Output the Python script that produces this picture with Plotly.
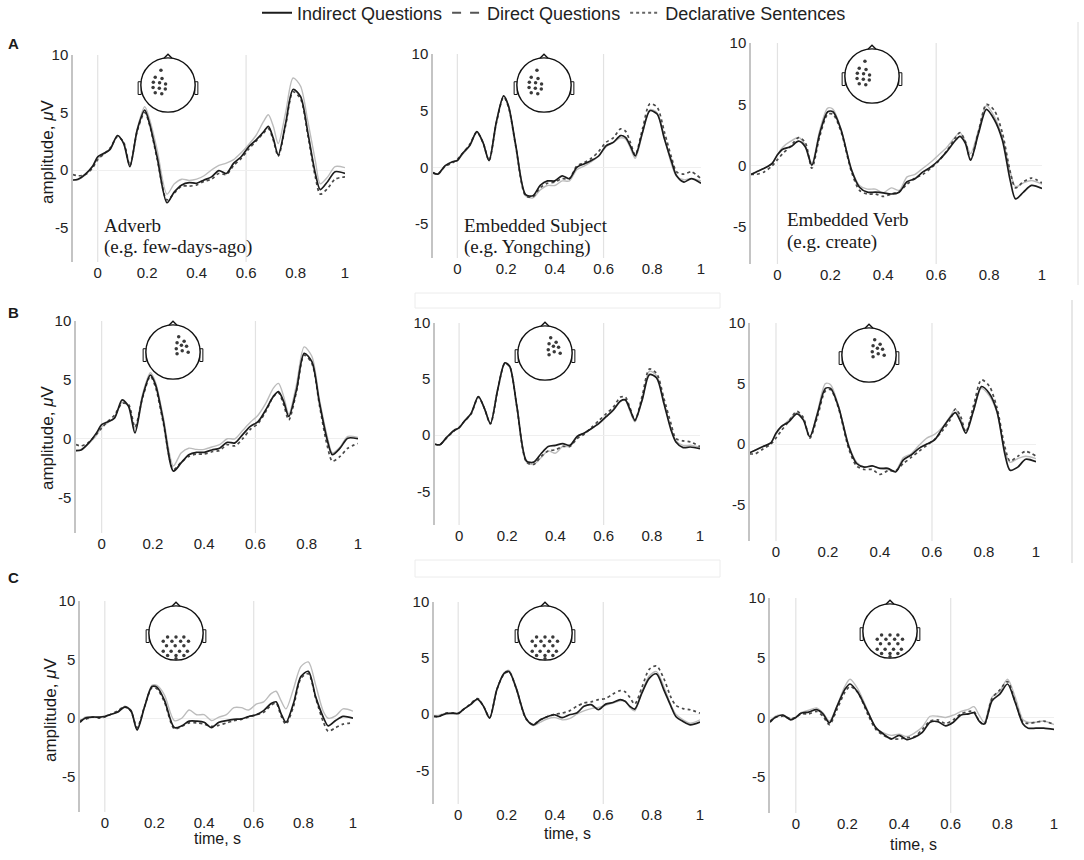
import plotly.graph_objects as go

W, H = 1084, 860

# sample times (s) shared by every waveform
TIME = [-0.1, -0.08, -0.05, -0.02, 0.0, 0.02, 0.05, 0.08, 0.105, 0.13,
        0.16, 0.19, 0.21, 0.24, 0.28, 0.31, 0.34, 0.37, 0.4, 0.43,
        0.46, 0.49, 0.52, 0.55, 0.58, 0.61, 0.64, 0.67, 0.69, 0.71,
        0.73, 0.76, 0.79, 0.82, 0.85, 0.88, 0.9, 0.93, 0.96, 1.0]

# amplitudes (uV), row A = left frontal, B = right frontal, C = posterior
A1_IND = [-0.87, -0.8, -0.35, 0.35, 1.15, 1.4, 1.8, 3.0, 2.3, 0.3, 3.5, 5.2, 4.0, 1.15, -2.85, -1.9, -1.3, -1.1, -1.15, -0.87, -0.6, -0.05, -0.3, 0.6, 1.15, 2.0, 2.6, 3.3, 3.8, 2.75, 1.3, 4.05, 7.0, 6.4, 3.2, -0.3, -1.7, -1.0, -0.15, -0.3]
A1_DIR = [-0.9, -0.85, -0.4, 0.3, 1.0, 1.3, 1.8, 3.0, 2.3, 0.5, 3.6, 5.5, 4.4, 1.8, -2.1, -1.2, -0.8, -0.9, -0.8, -0.5, 0.0, 0.4, 0.6, 0.9, 1.5, 2.2, 3.0, 4.2, 4.8, 3.8, 2.3, 5.0, 8.0, 7.3, 4.2, 0.8, -1.2, -0.6, 0.3, 0.2]
A1_DEC = [-0.4, -0.5, -0.4, 0.2, 0.9, 1.3, 1.9, 2.9, 2.4, 0.4, 3.4, 5.0, 3.9, 1.0, -2.6, -2.0, -1.4, -1.4, -1.3, -1.0, -0.8, -0.3, -0.4, 0.4, 1.0, 1.8, 2.5, 3.2, 3.6, 2.6, 1.2, 3.9, 6.8, 6.2, 3.0, -0.6, -2.1, -1.6, -0.8, -0.6]

A2_IND = [-0.45, -0.6, 0.15, 0.5, 0.6, 1.2, 1.9, 3.15, 2.2, 0.6, 4.0, 6.3, 5.4, 1.9, -2.4, -2.5, -1.6, -1.2, -1.2, -0.75, -1.0, 0.0, 0.3, 0.6, 1.0, 1.9, 2.2, 2.8, 2.65, 1.9, 1.0, 3.1, 5.0, 4.7, 2.5, 0.45, -0.75, -1.3, -1.0, -1.4]
A2_DIR = [-0.5, -0.6, 0.1, 0.5, 0.6, 1.1, 1.9, 3.1, 2.2, 0.6, 4.0, 6.3, 5.4, 1.9, -2.5, -2.7, -2.0, -1.6, -1.6, -1.2, -1.2, -0.2, 0.1, 0.5, 1.0, 1.8, 2.2, 2.6, 2.5, 1.7, 0.8, 3.0, 5.1, 4.8, 2.6, 0.2, -0.8, -1.1, -1.0, -1.2]
A2_DEC = [-0.5, -0.6, 0.1, 0.4, 0.7, 1.2, 2.0, 3.1, 2.2, 0.6, 3.9, 6.2, 5.3, 1.8, -2.5, -2.6, -1.8, -1.4, -1.3, -1.0, -1.0, 0.1, 0.4, 0.8, 1.4, 2.2, 2.6, 3.4, 3.2, 2.2, 1.1, 3.4, 5.6, 5.3, 3.1, 0.8, -0.4, -0.6, -0.4, -1.0]

A3_IND = [-0.7, -0.5, -0.2, 0.2, 0.9, 1.35, 1.55, 2.0, 1.55, 0.05, 2.65, 4.4, 4.4, 2.95, -0.35, -1.75, -2.15, -2.15, -2.2, -2.3, -2.15, -1.3, -1.05, -0.5, -0.1, 0.45, 1.15, 2.0, 2.4, 1.85, 0.45, 2.65, 4.6, 3.75, 2.1, -1.2, -2.7, -2.15, -1.6, -1.85]
A3_DIR = [-0.7, -0.5, -0.2, 0.2, 0.9, 1.5, 2.0, 2.3, 1.7, 0.2, 2.9, 4.7, 4.6, 3.0, -0.3, -1.6, -1.9, -1.9, -2.2, -1.8, -2.0, -0.9, -0.7, -0.2, 0.3, 0.9, 1.5, 2.3, 2.7, 2.0, 1.0, 2.9, 4.9, 4.0, 2.3, -0.5, -1.7, -1.4, -1.2, -1.5]
A3_DEC = [-0.7, -0.7, -0.5, 0.0, 0.5, 1.0, 1.6, 2.3, 1.9, -0.2, 2.4, 4.2, 4.2, 2.8, -0.5, -2.0, -2.3, -2.3, -2.5, -2.3, -2.1, -1.5, -1.0, -0.7, -0.2, 0.4, 1.2, 2.2, 2.7, 2.0, 0.5, 2.8, 5.0, 4.5, 2.7, -0.5, -1.8, -1.3, -1.0, -1.4]

B1_IND = [-1.0, -0.95, -0.35, 0.5, 1.2, 1.4, 1.75, 3.3, 2.75, 0.5, 3.6, 5.4, 4.6, 1.6, -2.75, -2.05, -1.35, -1.15, -1.15, -0.95, -0.8, -0.3, -0.35, 0.35, 1.05, 1.45, 2.45, 3.6, 4.0, 3.15, 1.9, 4.15, 7.25, 6.55, 3.0, -0.1, -1.35, -0.8, 0.05, 0.0]
B1_DIR = [-1.0, -0.9, -0.4, 0.3, 1.0, 1.3, 1.8, 3.1, 2.8, 0.9, 3.8, 5.6, 4.8, 1.9, -2.3, -1.2, -0.8, -0.9, -0.9, -0.7, -0.5, 0.0, 0.0, 0.7, 1.4, 2.0, 3.0, 4.3, 4.7, 3.6, 2.1, 4.6, 7.8, 7.0, 3.3, 0.2, -1.2, -0.7, 0.2, 0.1]
B1_DEC = [-0.5, -0.6, -0.3, 0.4, 0.9, 1.4, 2.0, 3.0, 2.9, 1.0, 3.5, 5.3, 4.4, 1.4, -2.6, -2.0, -1.5, -1.3, -1.3, -1.1, -1.0, -0.5, -0.6, 0.0, 0.8, 1.3, 2.3, 3.6, 3.9, 2.9, 1.6, 4.0, 7.1, 6.4, 2.8, -0.6, -1.9, -1.5, -0.8, -0.4]

B2_IND = [-0.8, -0.85, -0.15, 0.45, 0.65, 1.2, 1.95, 3.45, 2.4, 1.05, 4.05, 6.45, 6.15, 2.55, -2.3, -2.4, -1.65, -1.0, -0.9, -0.75, -0.9, -0.1, 0.2, 0.6, 1.05, 1.65, 2.25, 3.05, 3.15, 2.25, 1.35, 3.15, 5.4, 5.1, 2.85, 0.45, -0.6, -1.1, -1.05, -1.2]
B2_DIR = [-0.8, -0.85, -0.2, 0.4, 0.65, 1.2, 1.9, 3.4, 2.4, 1.0, 4.0, 6.4, 6.1, 2.5, -2.4, -2.6, -2.0, -1.4, -1.6, -1.0, -1.0, -0.2, 0.2, 0.6, 1.0, 1.6, 2.2, 3.0, 3.1, 2.1, 1.2, 3.2, 5.7, 5.3, 3.0, 0.6, -0.5, -0.9, -0.9, -1.1]
B2_DEC = [-0.8, -0.85, -0.2, 0.4, 0.7, 1.2, 1.9, 3.4, 2.4, 1.0, 4.0, 6.4, 6.1, 2.5, -2.4, -2.6, -1.9, -1.4, -1.3, -1.0, -1.0, -0.3, 0.1, 0.7, 1.3, 1.9, 2.5, 3.4, 3.4, 2.4, 1.3, 3.5, 5.9, 5.5, 3.3, 1.0, -0.3, -0.5, -0.6, -1.0]

B3_IND = [-0.7, -0.5, -0.2, 0.1, 0.9, 1.45, 1.85, 2.5, 2.0, 0.6, 2.55, 4.6, 4.6, 3.1, -0.2, -1.6, -1.9, -1.8, -2.0, -2.0, -2.3, -1.3, -0.9, -0.35, 0.0, 0.35, 1.3, 2.2, 2.6, 1.85, 0.9, 2.8, 4.75, 4.2, 2.7, -0.8, -2.15, -1.9, -1.25, -1.45]
B3_DIR = [-0.7, -0.5, -0.2, 0.1, 0.8, 1.4, 2.0, 2.6, 2.1, 0.6, 2.7, 5.0, 4.9, 3.2, -0.1, -1.5, -1.9, -1.8, -2.0, -2.1, -2.2, -1.1, -0.8, -0.1, 0.5, 0.8, 1.4, 2.3, 2.9, 2.1, 1.1, 2.8, 4.6, 4.0, 2.6, -0.5, -1.5, -1.2, -1.0, -1.2]
B3_DEC = [-0.8, -0.8, -0.4, 0.0, 0.5, 1.1, 1.9, 2.7, 2.2, 0.5, 2.3, 4.4, 4.5, 3.0, -0.4, -1.8, -2.1, -2.1, -2.5, -2.2, -2.2, -1.6, -1.1, -0.6, -0.1, 0.4, 1.1, 2.0, 2.9, 2.3, 1.0, 3.2, 5.3, 4.8, 3.0, -0.2, -1.4, -1.0, -0.6, -1.0]

C1_IND = [-0.35, 0.0, 0.1, 0.1, 0.15, 0.3, 0.5, 0.95, 0.65, -1.0, 0.95, 2.7, 2.65, 1.55, -0.8, -0.65, -0.25, -0.25, -0.35, -0.8, -0.35, -0.2, -0.1, -0.05, 0.15, 0.3, 0.65, 1.25, 1.4, 0.4, -0.35, 1.25, 3.55, 4.0, 1.8, 0.1, -0.65, -0.2, 0.15, 0.0]
C1_DIR = [-0.3, 0.1, 0.1, 0.1, 0.2, 0.3, 0.5, 1.0, 0.7, -0.9, 1.0, 2.8, 2.8, 2.0, -0.2, 0.0, 0.7, 0.3, 0.3, -0.2, 0.1, 0.3, 0.9, 0.9, 0.7, 1.2, 1.4, 2.1, 2.3, 1.5, 0.8, 2.5, 4.4, 4.8, 2.8, 0.6, 0.0, 0.2, 0.8, 0.6]
C1_DEC = [-0.2, -0.1, 0.1, 0.0, 0.1, 0.3, 0.6, 1.0, 0.6, -0.8, 1.0, 2.6, 2.5, 1.4, -0.9, -0.7, -0.4, -0.4, -0.5, -0.7, -0.6, -0.4, -0.2, -0.1, 0.1, 0.3, 0.5, 1.1, 1.3, 0.2, -0.5, 1.0, 3.4, 3.8, 1.7, -0.3, -1.1, -0.8, -0.5, -0.4]

C2_IND = [-0.2, -0.2, 0.05, 0.1, 0.05, 0.4, 0.85, 1.35, 0.7, -0.35, 2.2, 3.65, 3.8, 2.3, -0.35, -0.95, -0.5, -0.2, -0.05, -0.3, -0.05, 0.1, 0.7, 0.85, 0.4, 0.9, 1.05, 1.3, 1.15, 0.7, 0.45, 1.9, 3.2, 3.6, 2.2, 0.7, -0.2, -0.65, -0.95, -0.7]
C2_DIR = [-0.2, -0.1, 0.1, 0.0, 0.1, 0.4, 0.8, 1.3, 0.7, -0.3, 2.2, 3.7, 3.9, 2.4, -0.4, -1.0, -0.7, -0.4, -0.3, -0.5, -0.4, 0.0, 0.3, 0.5, 0.6, 0.8, 1.0, 1.2, 1.2, 0.6, 0.3, 2.0, 3.4, 3.8, 2.5, 0.8, 0.0, -0.5, -0.8, -0.5]
C2_DEC = [-0.2, -0.2, 0.1, 0.1, 0.1, 0.4, 0.9, 1.4, 0.7, -0.3, 2.2, 3.6, 3.8, 2.3, -0.4, -0.9, -0.5, -0.2, 0.0, 0.1, 0.3, 0.7, 1.0, 1.1, 1.3, 1.4, 1.8, 2.1, 2.0, 1.5, 0.9, 2.4, 4.0, 4.3, 3.2, 1.5, 0.8, 0.5, 0.4, 0.1]

C3_IND = [-0.4, 0.0, 0.2, -0.2, 0.0, 0.35, 0.45, 0.65, 0.3, -0.45, 0.95, 2.35, 2.8, 2.1, 0.4, -0.85, -1.4, -1.8, -1.5, -1.85, -1.65, -1.25, -0.4, -0.35, -0.7, -0.4, 0.2, 0.3, 0.4, -0.3, -0.55, 1.4, 1.95, 2.8, 1.25, -0.55, -0.9, -0.9, -0.9, -1.0]
C3_DIR = [-0.4, 0.1, 0.2, -0.1, 0.0, 0.4, 0.6, 0.8, 0.4, -0.3, 1.0, 2.6, 3.2, 2.4, 0.5, -0.9, -1.3, -1.5, -1.4, -1.6, -1.3, -0.8, 0.1, 0.1, 0.0, 0.2, 0.5, 0.7, 0.9, 0.2, -0.4, 1.7, 2.2, 3.2, 1.7, -0.2, -0.4, -0.4, -0.3, -0.6]
C3_DEC = [-0.3, 0.0, 0.1, -0.1, 0.0, 0.3, 0.3, 0.5, 0.1, -0.6, 0.7, 2.1, 2.6, 2.1, 0.2, -1.0, -1.5, -1.8, -1.8, -1.7, -1.6, -1.0, -0.3, -0.2, -0.5, -0.2, 0.3, 0.5, 0.5, -0.3, -0.6, 1.6, 2.3, 3.0, 1.3, -0.4, -0.5, -0.4, -0.3, -0.6]

# electrode positions on the head insets (head radius = 1)
ELEC_A_X = [-0.26, -0.47, -0.22, -0.54, -0.31, -0.09, -0.55, -0.32, -0.10, -0.47, -0.23]
ELEC_A_Y = [0.54, 0.29, 0.24, 0.10, 0.08, 0.04, -0.09, -0.12, -0.15, -0.29, -0.32]
ELEC_B_X = [0.21, 0.41, 0.15, 0.31, 0.50, 0.12, 0.34, 0.56, 0.15]
ELEC_B_Y = [0.56, 0.40, 0.34, 0.25, 0.21, 0.12, 0.05, -0.01, -0.06]
ELEC_C_X = [-0.31, 0.0, 0.29, -0.47, -0.15, 0.17, 0.46, -0.35, -0.03, 0.29,
            -0.47, -0.18, 0.13, 0.42, -0.31, 0.0, 0.29, 0.0]
ELEC_C_Y = [-0.15, -0.15, -0.15, -0.30, -0.30, -0.30, -0.30, -0.47, -0.47, -0.47,
            -0.67, -0.67, -0.67, -0.67, -0.83, -0.83, -0.83, -0.95]

SERIES = ["Indirect Questions", "Direct Questions", "Declarative Sentences"]
ROW_LABELS = ["A", "B", "C"]
WORD_LINE1 = ["Adverb", "Embedded Subject", "Embedded Verb"]
WORD_LINE2 = ["(e.g. few-days-ago)", "(e.g. Yongching)", "(e.g. create)"]
X_TICKS = [0, 0.2, 0.4, 0.6, 0.8, 1]
X_TICK_TEXT = ["0", "0.2", "0.4", "0.6", "0.8", "1"]
Y_TICKS = [-5, 0, 5, 10]
Y_TICK_TEXT = ["-5", "0", "5", "10"]

waves = [[(A1_IND, A1_DIR, A1_DEC), (A2_IND, A2_DIR, A2_DEC), (A3_IND, A3_DIR, A3_DEC)],
         [(B1_IND, B1_DIR, B1_DEC), (B2_IND, B2_DIR, B2_DEC), (B3_IND, B3_DIR, B3_DEC)],
         [(C1_IND, C1_DIR, C1_DEC), (C2_IND, C2_DIR, C2_DEC), (C3_IND, C3_DIR, C3_DEC)]]
electrodes = [(ELEC_A_X, ELEC_A_Y), (ELEC_B_X, ELEC_B_Y), (ELEC_C_X, ELEC_C_Y)]

# layout in pixels: (left, right, top, bottom) of each plot area, head centres
boxes = [[(73, 345, 55, 262), (433, 701, 54, 258), (751, 1042, 43, 264)],
         [(76, 358, 321, 533), (435, 700, 323, 525), (750, 1036, 323, 541)],
         [(80, 353, 601, 812), (434, 700, 602, 804), (770, 1054, 598, 813)]]
heads = [[(168, 85), (544, 85), (872, 76)],
         [(173, 352), (545, 353), (869, 355)],
         [(176, 633), (545, 633), (890, 631)]]


def px(x):
    return x / W


def py(y):
    return 1 - y / H


FONT = "Liberation Sans, Arial, sans-serif"
SERIF = "Liberation Serif, Times New Roman, serif"
styles = [dict(color="#1c1c1c", width=1.7),
          dict(color="#bcbcbc", width=1.4),
          dict(color="#4a4a4a", width=1.7, dash="dot")]

fig = go.Figure()
layout = {}
shapes = []
annotations = []

n = 0
for r in range(3):
    for c in range(3):
        n += 1
        xa = "x" if n == 1 else f"x{n}"
        ya = "y" if n == 1 else f"y{n}"
        for k in (1, 2, 0):
            fig.add_trace(go.Scatter(
                x=TIME, y=waves[r][c][k], mode="lines",
                line=dict(shape="spline", smoothing=0.8, **styles[k]),
                xaxis=xa, yaxis=ya, showlegend=False, hoverinfo="skip"))
        left, right, top, bottom = boxes[r][c]
        layout[f"xaxis{n}"] = dict(
            domain=[px(left), px(right)], range=[-0.1, 1.0], anchor=ya,
            tickvals=X_TICKS, ticktext=X_TICK_TEXT, showgrid=False,
            zeroline=False, showline=False, ticks="",
            tickfont=dict(family=FONT, size=15, color="#222"))
        layout[f"yaxis{n}"] = dict(
            domain=[py(bottom), py(top)], range=[-8, 10], anchor=xa,
            tickvals=Y_TICKS, ticktext=Y_TICK_TEXT, showgrid=False,
            zeroline=True, zerolinecolor="#efefef", zerolinewidth=1,
            showline=True, linecolor="#c4c4c4", linewidth=1.5, ticks="",
            tickfont=dict(family=FONT, size=15, color="#222"))
        for xv in (0, 0.6):
            shapes.append(dict(type="line", xref=xa, yref=f"{ya} domain",
                               x0=xv, x1=xv, y0=0, y1=1, layer="below",
                               line=dict(color="#e2e2e2", width=1.2)))

# head insets
m = 9
for r in range(3):
    for c in range(3):
        m += 1
        cx, cy = heads[r][c]
        xa, ya = f"x{m}", f"y{m}"
        layout[f"xaxis{m}"] = dict(domain=[px(cx - 38), px(cx + 38)], range=[-1.4, 1.4],
                                   anchor=ya, visible=False)
        layout[f"yaxis{m}"] = dict(domain=[py(cy + 38), py(cy - 38)], range=[-1.4, 1.4],
                                   anchor=xa, visible=False)
        head_line = dict(color="#111", width=1.4)
        shapes.append(dict(type="path", xref=xa, yref=ya, layer="below",
                           path="M -0.15 0.985 L 0 1.13 L 0.15 0.985",
                           line=head_line, fillcolor="white"))
        shapes.append(dict(type="rect", xref=xa, yref=ya, x0=-1.1, x1=-0.985, layer="below",
                           y0=-0.35, y1=0.12, line=dict(color="#111", width=1), fillcolor="white"))
        shapes.append(dict(type="rect", xref=xa, yref=ya, x0=0.985, x1=1.1, layer="below",
                           y0=-0.35, y1=0.12, line=dict(color="#111", width=1), fillcolor="white"))
        shapes.append(dict(type="circle", xref=xa, yref=ya, x0=-1, x1=1, y0=-1, y1=1,
                           layer="below", line=head_line, fillcolor="white"))
        ex, ey = electrodes[r]
        fig.add_trace(go.Scatter(x=ex, y=ey, mode="markers", xaxis=xa, yaxis=ya,
                                 marker=dict(size=3.5, color="#3a3a3a"),
                                 showlegend=False, hoverinfo="skip"))

# legend entries
legend_styles = [dict(color="#1c1c1c", width=2),
                 dict(color="#555", width=2, dash="dash"),
                 dict(color="#666", width=2, dash="dot")]
for k in range(3):
    fig.add_trace(go.Scatter(x=[None], y=[None], mode="lines", name=SERIES[k],
                             line=legend_styles[k], xaxis="x", yaxis="y"))


def note(text, x, y, size, family=FONT, xanchor="center", angle=0):
    annotations.append(dict(text=text, xref="paper", yref="paper", x=px(x), y=py(y),
                            xanchor=xanchor, yanchor="middle", textangle=angle,
                            showarrow=False, font=dict(family=family, size=size, color="#1a1a1a")))


for r in range(3):
    note(f"<b>{ROW_LABELS[r]}</b>", 13, [44, 313, 577][r], 15)
    note("amplitude, <i>μ</i>V", [47, 47, 50][r], [152, 438, 710][r], 17, angle=-90)
for c in range(3):
    note("time, s", [217, 567, 913][c], [838, 833, 844][c], 16)
    lx = [102, 462, 785][c]
    note(WORD_LINE1[c], lx, [225, 225, 219][c], 19, family=SERIF, xanchor="left")
    note(WORD_LINE2[c], lx, [247, 247, 242][c], 19, family=SERIF, xanchor="left")

# faint scan borders
border = dict(color="#ececec", width=1)
shapes.append(dict(type="rect", xref="paper", yref="paper", x0=px(415), x1=px(720),
                   y0=py(308), y1=py(293), line=border))
shapes.append(dict(type="rect", xref="paper", yref="paper", x0=px(415), x1=px(720),
                   y0=py(577), y1=py(560), line=border))
shapes.append(dict(type="line", xref="paper", yref="paper", x0=px(1072), x1=px(1072),
                   y0=py(563), y1=py(300), line=dict(color="#cfcfcf", width=1)))
shapes.append(dict(type="line", xref="paper", yref="paper", x0=px(1078), x1=px(1078),
                   y0=py(285), y1=py(22), line=dict(color="#dedede", width=1)))

fig.update_layout(
    width=W, height=H, autosize=False,
    margin=dict(l=0, r=0, t=0, b=0, autoexpand=False),
    paper_bgcolor="white", plot_bgcolor="rgba(0,0,0,0)",
    showlegend=True,
    legend=dict(orientation="h", x=px(554), xanchor="center", y=py(13), yanchor="middle",
                font=dict(family=FONT, size=18, color="#222"), bgcolor="rgba(0,0,0,0)",
                itemwidth=30),
    shapes=shapes, annotations=annotations,
    **layout)

# drop the default page margin so the figure sits at the window's corner
fig.write_html("out.html", config={"displayModeBar": False},
               post_script="document.body.style.margin = '0';")
